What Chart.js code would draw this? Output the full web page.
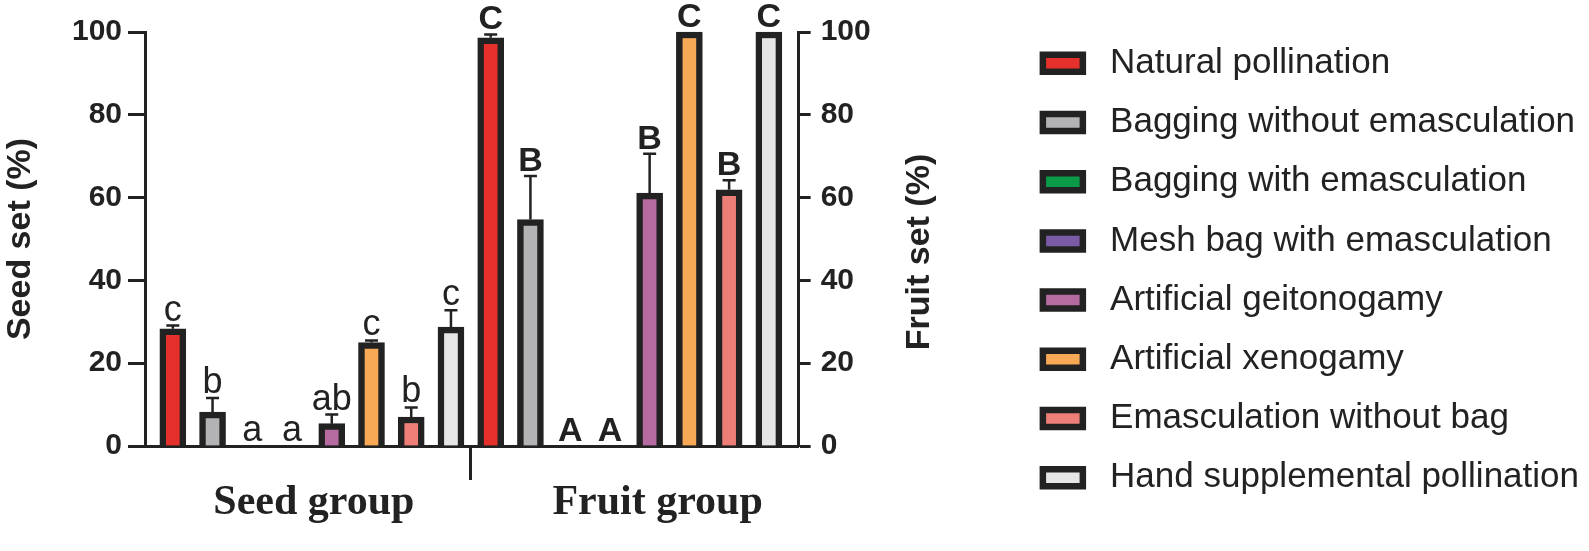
<!DOCTYPE html>
<html>
<head>
<meta charset="utf-8">
<script src="https://cdn.jsdelivr.net/npm/chart.js@4.4.1/dist/chart.umd.min.js"></script>
<style>
  body { margin: 0; background: #fff; }
  #wrap { width: 1589px; height: 551px; }
</style>
</head>
<body>
<div id="wrap"><canvas id="pollChart" width="1589" height="551"></canvas></div>
<script>
// Data
const treatments = ['Natural pollination', 'Bagging without emasculation', 'Bagging with emasculation',
  'Mesh bag with emasculation', 'Artificial geitonogamy', 'Artificial xenogamy',
  'Emasculation without bag', 'Hand supplemental pollination'];
const groups = ['Seed group', 'Fruit group'];
const seedSet = [28.3, 8.2, 0, 0, 5.4, 25.0, 7.0, 28.7];
const seedErr = [0.8, 3.4, 0, 0, 2.2, 0.5, 2.3, 4.1];
const fruitSet = [98.6, 54.7, 0, 0, 61.1, 100, 61.9, 100];
const fruitErr = [0.8, 10.5, 0, 0, 9.5, 0, 2.3, 0];
const seedLetters = ['c', 'b', 'a', 'a', 'ab', 'c', 'b', 'c'];
const fruitLetters = ['C', 'B', 'A', 'A', 'B', 'C', 'B', 'C'];
const yTicks = [0, 20, 40, 60, 80, 100];

const colors = ['#e5302b', '#b3b3b5', '#0b9b48', '#7b5ba6', '#b56aa0', '#f7a955', '#ee7f78', '#e6e6e6'];
const ink = '#222222';
const sans = "'Liberation Sans', Arial, sans-serif";
const serif = "'Liberation Serif', 'Times New Roman', serif";

const n = treatments.length;
const datasets = treatments.map((name, i) => ({
  label: name,
  data: [{x: i, y: seedSet[i]}, {x: i + n, y: fruitSet[i]}],
  backgroundColor: colors[i],
  borderColor: ink,
  borderWidth: 6.5,
  barThickness: 26,
  grouped: false,
  clip: false
}));

// error bars + significance letters
const errorBars = {
  id: 'errorBars',
  afterDatasetsDraw(chart) {
    const ctx = chart.ctx;
    const y = chart.scales.y;
    ctx.save();
    treatments.forEach((_, i) => {
      const meta = chart.getDatasetMeta(i);
      [[seedSet, seedErr, seedLetters, '36px'], [fruitSet, fruitErr, fruitLetters, 'bold 34px']].forEach(([vals, errs, letters, font], g) => {
        const bar = meta.data[g];
        const top = y.getPixelForValue(vals[i] + errs[i]);
        if (errs[i] > 0) {
          ctx.strokeStyle = ink;
          ctx.lineWidth = 2.5;
          ctx.beginPath();
          ctx.moveTo(bar.x, y.getPixelForValue(vals[i]));
          ctx.lineTo(bar.x, top);
          ctx.moveTo(bar.x - 6.5, top);
          ctx.lineTo(bar.x + 6.5, top);
          ctx.stroke();
        }
        ctx.fillStyle = ink;
        ctx.font = font + ' ' + sans;
        ctx.textAlign = 'center';
        ctx.textBaseline = 'alphabetic';
        ctx.fillText(letters[i], bar.x, top - 5);
      });
    });
    // right axis title reads bottom-to-top like the left one
    const area = chart.chartArea;
    ctx.translate(area.right + 121, (area.top + area.bottom) / 2 + 13);
    ctx.rotate(-Math.PI / 2);
    ctx.font = 'bold 34px ' + sans;
    ctx.textBaseline = 'middle';
    ctx.fillText('Fruit set (%)', 0, 0);
    ctx.restore();
  }
};

const legendDefaults = Chart.defaults.plugins.legend.labels.generateLabels;

new Chart(document.getElementById('pollChart'), {
  type: 'bar',
  data: { datasets },
  plugins: [errorBars],
  options: {
    responsive: false,
    animation: false,
    layout: { padding: { top: 21.6, bottom: 0, left: 0, right: 0 } },
    plugins: {
      tooltip: { enabled: false },
      // empty spacer above the plot only, so the legend can start higher
      title: { display: true, text: '', fullSize: false, padding: 0, font: { size: 10.4, lineHeight: 1 } },
      legend: {
        position: 'right',
        align: 'start',
        maxWidth: 700,
        labels: {
          boxWidth: 40,
          boxHeight: 17,
          padding: 24.2,
          color: ink,
          font: { family: sans, size: 35 },
          generateLabels: chart => legendDefaults(chart).map(l => Object.assign(l, { text: ' ' + l.text }))
        }
      }
    },
    scales: {
      x: {
        type: 'linear',
        offset: false,
        min: -0.7,
        max: 15.75,
        afterBuildTicks: s => { s.ticks = [{value: 3.55}, {value: 7.5}, {value: 12.2}]; },
        afterFit: s => { s.height = 105; },
        ticks: {
          autoSkip: false,
          maxRotation: 0,
          padding: 2,
          color: ink,
          font: { family: serif, size: 42, weight: 'bold', lineHeight: 1 },
          callback: (v, idx) => [groups[0], '', groups[1]][idx]
        },
        grid: {
          offset: false,
          drawOnChartArea: false,
          tickLength: 34,
          tickWidth: 3,
          tickColor: c => (c.tick && c.tick.value === 7.5) ? ink : 'rgba(0,0,0,0)'
        },
        border: { color: ink, width: 3 }
      },
      y: {
        position: 'left',
        min: 0,
        max: 100,
        afterBuildTicks: s => { s.ticks = yTicks.map(v => ({value: v})); },
        afterFit: s => { s.width = 145; },
        ticks: { color: ink, padding: 6, font: { family: sans, size: 30, weight: 'bold' } },
        grid: { drawOnChartArea: false, tickLength: 17, tickWidth: 3, tickColor: ink },
        border: { color: ink, width: 3 },
        title: { display: true, text: 'Seed set (%)', color: ink, padding: 0,
                 font: { family: sans, size: 34, weight: 'bold' } }
      },
      y1: {
        position: 'right',
        min: 0,
        max: 100,
        afterBuildTicks: s => { s.ticks = yTicks.map(v => ({value: v})); },
        afterFit: s => { s.width = 220; },
        ticks: { color: ink, padding: 10, font: { family: sans, size: 30, weight: 'bold' } },
        grid: { drawOnChartArea: false, tickLength: 12, tickWidth: 3, tickColor: ink },
        border: { color: ink, width: 3 }
      }
    }
  }
});
</script>
</body>
</html>
